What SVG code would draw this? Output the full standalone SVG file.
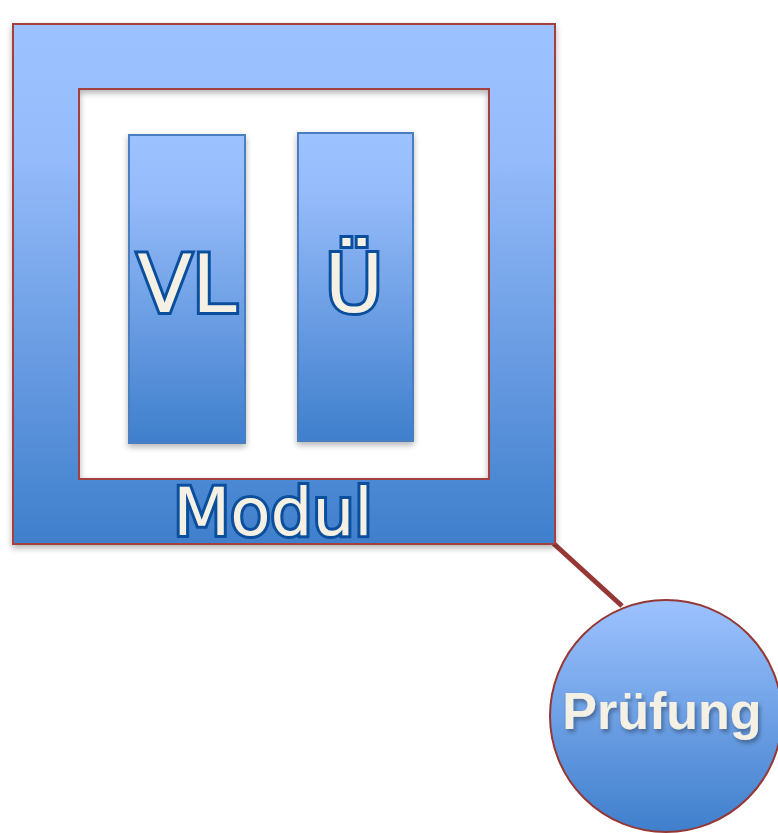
<svg xmlns="http://www.w3.org/2000/svg" width="778" height="833" viewBox="0 0 778 833">
<defs>
<linearGradient id="gFrame" x1="0" y1="0" x2="0" y2="1">
<stop offset="0" stop-color="#9dc2ff"/>
<stop offset="0.25" stop-color="#95bbfa"/>
<stop offset="1" stop-color="#3f7fcc"/>
</linearGradient>
<linearGradient id="gBar" x1="0" y1="0" x2="0" y2="1">
<stop offset="0" stop-color="#9dc2ff"/>
<stop offset="0.2" stop-color="#95bbfa"/>
<stop offset="1" stop-color="#3f7fcc"/>
</linearGradient>
<linearGradient id="gCircle" x1="0" y1="0" x2="0" y2="1">
<stop offset="0" stop-color="#9dc2ff"/>
<stop offset="1" stop-color="#3f7fcc"/>
</linearGradient>
<filter id="shadow" x="-10%" y="-10%" width="120%" height="120%">
<feDropShadow dx="0" dy="3" stdDeviation="3" flood-color="#000" flood-opacity="0.3"/>
</filter>
<filter id="tshadow" x="-10%" y="-10%" width="120%" height="130%">
<feDropShadow dx="2" dy="3" stdDeviation="2" flood-color="#000" flood-opacity="0.35"/>
</filter>
</defs>
<style>
.outlined{font-family:"DejaVu Sans",Verdana,sans-serif;fill:#f4f0e4;stroke:#0b4f9c;stroke-width:6;stroke-linejoin:miter;paint-order:stroke fill;text-anchor:middle}
.bar{fill:url(#gBar);stroke:#4a7fc0;stroke-width:2}
</style>
<rect width="778" height="833" fill="#ffffff"/>
<g id="connectors">
<line x1="553" y1="543" x2="622" y2="606" stroke="#953735" stroke-width="5"/>
</g>
<g id="modul">
<path d="M13,24 H555 V544 H13 Z M79,89 V479 H489 V89 Z" fill="url(#gFrame)" fill-rule="evenodd" stroke="#a4403c" stroke-width="2" filter="url(#shadow)"/>
<text class="outlined" x="273" y="535" font-size="66">Modul</text>
</g>
<g id="vl">
<rect class="bar" x="129" y="135" width="116" height="308" filter="url(#shadow)"/>
<text class="outlined" x="187" y="312" font-size="80">VL</text>
</g>
<g id="ue">
<rect class="bar" x="298" y="133" width="115" height="308" filter="url(#shadow)"/>
<text class="outlined" x="354" y="312" font-size="80">Ü</text>
</g>
<g id="pruefung">
<circle cx="666" cy="716" r="116" fill="url(#gCircle)" stroke="#953735" stroke-width="2"/>
<text x="662" y="729" font-family="Liberation Sans,Arial,sans-serif" font-weight="bold" font-size="52" fill="#f4f0e4" text-anchor="middle" filter="url(#tshadow)">Prüfung</text>
</g>
</svg>
